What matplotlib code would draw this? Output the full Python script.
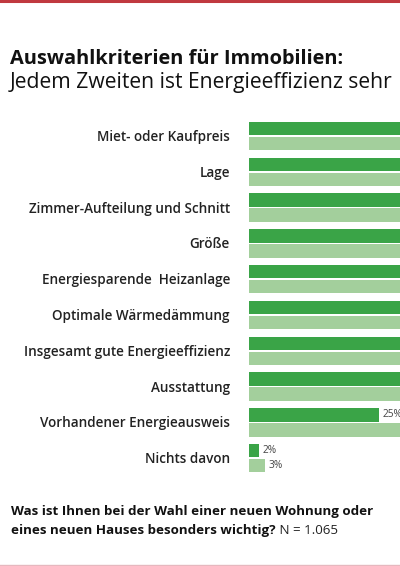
import matplotlib
matplotlib.use("Agg")
import matplotlib.pyplot as plt
import numpy as np

categories = [
    "Miet- oder Kaufpreis",
    "Lage",
    "Zimmer-Aufteilung und Schnitt",
    "Größe",
    "Energiesparende  Heizanlage",
    "Optimale Wärmedämmung",
    "Insgesamt gute Energieeffizienz",
    "Ausstattung",
    "Vorhandener Energieausweis",
    "Nichts davon",
]
# Values in percent (bars beyond the visible area are estimates)
series_dark = [80, 76, 66, 62, 52, 51, 50, 47, 25, 2]
series_light = [78, 74, 64, 60, 50, 49, 48, 45, 31, 3]
shown_labels_dark = {8: "25%", 9: "2%"}
shown_labels_light = {9: "3%"}

title1 = "Auswahlkriterien für Immobilien:"
title2 = "Jedem Zweiten ist Energieeffizienz sehr"
foot1 = "Was ist Ihnen bei der Wahl einer neuen Wohnung oder"
foot2a = "eines neuen Hauses besonders wichtig?"
foot2b = " N = 1.065"

W, H = 400, 566
fig = plt.figure(figsize=(W / 100, H / 100), dpi=100)
fig.patch.set_facecolor("white")
renderer = fig.canvas.get_renderer()

dark = "#3aa447"
light = "#a3cf9c"
font = ["Open Sans", "DejaVu Sans"]


def fit_size(s, target_px, weight="normal", base=10.0):
    t = fig.text(0, 0, s, fontsize=base, fontweight=weight, family=font)
    w = t.get_window_extent(renderer=renderer).width
    t.remove()
    return base * target_px / w


# Axes: pixel geometry
x0 = 249
px_per_pct = 5.2
top_px = 112
bot_px = 482
ax = fig.add_axes([x0 / W, 1 - bot_px / H, (W - x0) / W, (bot_px - top_px) / H])
ax.set_xlim(0, (W - x0) / px_per_pct)
ax.set_ylim(bot_px, top_px)
ax.axis("off")

spacing = 35.8
g0 = 136
centers = g0 + spacing * np.arange(len(categories))
bh = 13.5
ax.barh(centers - 7.5, series_dark, height=bh, color=dark, left=0)
ax.barh(centers + 7.5, series_light, height=bh, color=light, left=0)

for i, lab in shown_labels_dark.items():
    ax.text(series_dark[i] + 0.7, centers[i] - 7.5, lab, va="center", ha="left",
            fontsize=7.3, color="#444444", family=font)
for i, lab in shown_labels_light.items():
    ax.text(series_light[i] + 0.7, centers[i] + 7.5, lab, va="center", ha="left",
            fontsize=7.3, color="#444444", family=font)

label_size = fit_size(categories[0], 133, weight="semibold")
for c, cat in zip(centers, categories):
    fig.text(230 / W, 1 - (c + 1) / H, cat, ha="right", va="center", fontsize=label_size,
             fontweight="semibold", color="#222222", family=font)

# Titles
fig.text(10 / W, 1 - 64.5 / H, title1, ha="left", va="baseline",
         fontsize=fit_size(title1, 335, "bold"), fontweight="bold", color="#111111", family=font)
fig.text(10 / W, 1 - 88 / H, title2, ha="left", va="baseline",
         fontsize=fit_size(title2, 385), color="#111111", family=font)

# Footer
fs_foot = fit_size(foot1, 363, "bold")
fig.text(11 / W, 1 - 515 / H, foot1, ha="left", va="baseline", fontsize=fs_foot,
         fontweight="bold", color="#111111", family=font)
t = fig.text(11 / W, 1 - 534 / H, foot2a, ha="left", va="baseline", fontsize=fs_foot,
             fontweight="bold", color="#111111", family=font)
bb = t.get_window_extent(renderer=renderer)
fig.text(bb.x1 / W, 1 - 534 / H, foot2b, ha="left", va="baseline", fontsize=fs_foot,
         color="#222222", family=font)

# Decorative rules
fig.add_artist(plt.Line2D([0, 1], [1 - 1 / H, 1 - 1 / H], color="#c0393f", lw=2.2,
                          transform=fig.transFigure))
fig.add_artist(plt.Line2D([0, 1], [1 - 565 / H, 1 - 565 / H], color="#e6b8bf", lw=1.0,
                          transform=fig.transFigure))

fig.savefig("out.png", dpi=100, facecolor="white")
